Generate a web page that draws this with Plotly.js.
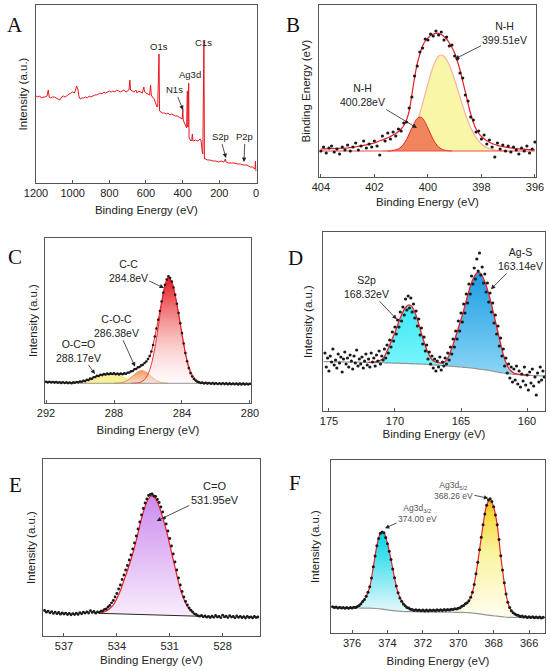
<!DOCTYPE html>
<html><head><meta charset="utf-8">
<script src="https://cdn.plot.ly/plotly-3.0.1.min.js"></script>
<style>html,body{margin:0;padding:0;background:#fff;}#chart{width:550px;height:671px;}</style>
</head><body><div id="chart"></div>
<script>
// ---------- Panel A: survey ----------
const aEnergy = [1200,1190,1180,1170,1160,1150,1140,1133,1128,1120,1110,1100,1090,1080,1070,1060,1050,1040,1030,1020,
1010,1000,990,985,978,972,965,958,950,940,930,920,910,900,890,880,870,860,850,840,
830,820,810,800,790,780,770,760,750,740,730,720,710,700,692,688,684,675,665,655,
648,640,630,620,612,607,600,590,580,575,571,565,555,548,540,536,532,529,526,520,
510,500,490,480,470,460,450,440,430,420,410,402,399,397,390,383,378,375,373,371,
369,367,365,360,355,350,347,344,340,330,320,310,305,300,297,293,290,287,284,281,
275,265,250,235,220,205,190,175,167,163,150,135,120,100,85,70,60,50,40,30,
20,10,5,3,1,0];
const aIntensity = [87,86,87,85,86,86,87,93,86,85,86,86,85,84,83,86,87,86,88,89,
90,91,90,93,97,94,86,84,85,85,86,85,87,86,87,88,88,89,90,89,
91,90,91,92,91,92,91,93,92,91,92,93,91,92,94,103,93,92,91,93,
90,92,91,90,96,91,90,89,88,98,88,86,84,80,76,77,129,129,72,71,
70,70,69,70,68,69,68,67,67,66,65,64,74,63,60,57,55,92,92,56,
100,100,45,43,42,43,49,42,42,43,42,43,44,43,33,31,29,142,142,24,
24,23,23,22,22,21,22,21,24,21,20,20,20,19,19,18,18,18,17,16,
16,15,14,22,14,12];

// ---------- Panel B: N1s ----------
const bEnergy = [404.0,403.9,403.8,403.7,403.6,403.5,403.4,403.3,403.2,403.1,
403.0,402.9,402.8,402.7,402.6,402.5,402.4,402.3,402.2,402.1,
402.0,401.9,401.8,401.7,401.6,401.5,401.4,401.3,401.2,401.1,
401.0,400.9,400.8,400.7,400.6,400.5,400.4,400.3,400.2,400.1,
400.0,399.9,399.8,399.7,399.6,399.5,399.4,399.3,399.2,399.1,
399.0,398.9,398.8,398.7,398.6,398.5,398.4,398.3,398.2,398.1,
398.0,397.9,397.8,397.7,397.6,397.5,397.4,397.3,397.2,397.1,
397.0,396.9,396.8,396.7,396.6,396.5,396.4,396.3,396.2,396.1,
396.0];
const bData = [26,30,24,29,31,25,28,23,30,27,32,26,30,34,27,31,36,29,33,30,
36,31,22,41,36,44,38,45,41,48,46,54,55,69,80,101,111,125,129,138,
137,143,141,146,142,145,137,140,131,132,121,118,104,99,82,76,60,57,45,46,
38,42,33,37,30,20,34,28,32,26,31,25,30,27,23,29,26,31,24,28,35];
const bFit = [28,28.1,28.2,28.3,28.4,28.5,28.6,28.7,28.8,28.9,29,29.4,29.8,30.2,30.7,31.2,31.7,32.2,32.8,33.4,
34,35,36.2,37,38.2,39.2,40.5,42,43.5,45.5,48,51.5,57,66,82,99,113,123,131,136,
139,141.5,143,143.7,143.7,142.5,140.5,138,134,129.5,124,116,107,96,85,73.5,63,54.5,48,43.5,
40.5,38.2,36.2,34.8,33.5,32.5,31.7,31,30.4,29.9,29.5,29.1,28.8,28.5,28.2,28,27.8,27.6,27.4,27.2,27];
const bPeak39951 = [26,26,26,26,26,26,26,26,26,26,26,26,26,26,26,26,26,26,26,26,
26,26,26,26,26.1,26.2,26.4,26.8,27.4,28.2,29.5,31.4,34.1,37.7,42.4,48.4,55.6,63.9,73.3,83.2,
93.2,102.6,110.7,117,120.8,122,120.7,117.3,112,105.1,97.2,88.6,79.8,71.2,63.1,55.8,49.3,43.9,39.4,35.8,
33,30.9,29.4,28.2,27.5,26.9,26.6,26.4,26.2,26.1,26,26,26,26,26,26,26,26,26,26,26];
const bPeak40028 = [26,26,26,26,26,26,26,26,26,26,26,26,26,26,26,26,26,26,26,26,
26,26,26,26,26,26,26.1,26.4,27,28.1,30.1,33.2,37.5,43,49,54.6,58.6,60,58.6,54.6,
49,43,37.5,33.2,30.1,28.1,27,26.4,26.1,26,26,26,26,26,26,26,26,26,26,26,
26,26,26,26,26,26,26,26,26,26,26,26,26,26,26,26,26,26,26,26,26];
const bBaseE = [404, 396];
const bBase = [26, 26];

// ---------- Panel C: C1s ----------
const cEnergy = [292.0,291.9,291.8,291.7,291.6,291.5,291.4,291.3,291.2,291.1,
291.0,290.9,290.8,290.7,290.6,290.5,290.4,290.3,290.2,290.1,
290.0,289.9,289.8,289.7,289.6,289.5,289.4,289.3,289.2,289.1,
289.0,288.9,288.8,288.7,288.6,288.5,288.4,288.3,288.2,288.1,
288.0,287.9,287.8,287.7,287.6,287.5,287.4,287.3,287.2,287.1,
287.0,286.9,286.8,286.7,286.6,286.5,286.4,286.3,286.2,286.1,
286.0,285.9,285.8,285.7,285.6,285.5,285.4,285.3,285.2,285.1,
285.0,284.9,284.8,284.7,284.6,284.5,284.4,284.3,284.2,284.1,
284.0,283.9,283.8,283.7,283.6,283.5,283.4,283.3,283.2,283.1,
283.0,282.9,282.8,282.7,282.6,282.5,282.4,282.3,282.2,282.1,
282.0,281.9,281.8,281.7,281.6,281.5,281.4,281.3,281.2,281.1,
281.0,280.9,280.8,280.7,280.6,280.5,280.4,280.3,280.2,280.1,
280.0];
const cData = [21.3,20.6,21.2,20.5,21.0,20.4,20.9,20.2,20.8,20.1,
20.7,20.0,20.6,19.9,20.5,19.8,20.6,20.2,21.0,20.6,
21.5,21.2,22.3,21.9,23.2,23.0,24.4,24.3,25.8,26.0,
27.3,27.0,28.3,27.9,28.9,28.4,29.4,28.8,29.6,29.0,
29.7,28.8,29.5,28.6,29.4,28.7,29.6,29.3,30.3,30.5,
31.8,32.0,33.7,34.0,35.6,36.0,37.6,38.2,40.0,41.5,
44.0,47.0,51.5,58.0,66.5,74.5,83.2,92.0,101.5,110.2,
118.2,123.5,126.8,125.0,121.5,115.5,108.2,99.2,89.9,79.7,
69.9,59.5,49.9,41.7,34.9,29.9,26.5,24.0,22.5,21.2,
20.8,20.0,20.4,19.6,20.2,19.4,20.0,19.2,19.9,19.1,
19.8,19.0,19.7,18.9,19.7,18.9,19.6,18.8,19.6,18.8,
19.5,18.7,19.5,18.6,19.4,18.6,19.4,18.5,19.3,18.5,
19.2];
const cFitE = [292.0,291.8,291.6,291.4,291.2,291.0,290.8,290.6,290.4,290.2,
290.0,289.8,289.6,289.4,289.2,289.0,288.8,288.6,288.4,288.2,
288.0,287.8,287.6,287.4,287.2,287.0,286.8,286.6,286.4,286.2,
286.0,285.8,285.6,285.4,285.2,285.0,284.8,284.6,284.4,284.2,
284.0,283.8,283.6,283.4,283.2,283.0,282.8,282.6,282.4,282.2,
282.0,281.8,281.6,281.4,281.2,281.0,280.8,280.6,280.4,280.2,
280.0];
const cFit = [21,20.9,20.8,20.7,20.6,20.5,20.4,20.3,20.4,20.7,
21.1,21.7,22.6,23.8,25.3,26.8,27.8,28.5,28.9,29.1,
29.2,29.1,29.0,29.2,29.8,31.3,33.2,35.2,37.2,39.7,
43.7,51.3,66.3,83,101.3,118,126.3,121.3,108,89.7,
69.7,49.7,34.7,26.3,22.3,20.5,20.1,19.9,19.7,19.6,
19.5,19.4,19.4,19.3,19.3,19.2,19.2,19.1,19.1,19.0,
19.0];
const cOCO = [19.7,19.7,19.7,19.7,19.7,19.7,19.7,19.7,19.8,19.9,
20.2,20.6,21.2,22.2,23.4,24.9,26.4,27.8,28.8,29.2,
29,28.1,26.8,25.3,23.8,22.5,21.5,20.8,20.3,20.0,
19.8,19.7,19.7,19.7,19.7,19.7,19.7,19.7,19.7,19.7,
19.7,19.7,19.7,19.7,19.7,19.7,19.7,19.7,19.7,19.7,
19.7,19.7,19.7,19.7,19.7,19.7,19.7,19.7,19.7,19.7,
19.7];
const cCOC = [19.7,19.7,19.7,19.7,19.7,19.7,19.7,19.7,19.7,19.7,
19.7,19.7,19.7,19.7,19.7,19.7,19.7,19.7,19.7,19.7,
19.8,19.9,20.3,21.2,22.9,25.4,28.4,31,32.3,31.6,
29.3,26.3,23.5,21.6,20.5,20,19.8,19.7,19.7,19.7,
19.7,19.7,19.7,19.7,19.7,19.7,19.7,19.7,19.7,19.7,
19.7,19.7,19.7,19.7,19.7,19.7,19.7,19.7,19.7,19.7,
19.7];
const cCC = [19.7,19.7,19.7,19.7,19.7,19.7,19.7,19.7,19.7,19.7,
19.7,19.7,19.7,19.7,19.7,19.7,19.7,19.7,19.7,19.7,
19.7,19.7,19.7,19.7,19.7,19.7,19.8,20.1,21.1,23.5,
28.8,38.7,54.6,75.9,98.9,117.5,125.7,121.3,107.6,88.1,
67.7,50.1,37,28.6,23.8,21.4,20.3,19.9,19.7,19.7,
19.7,19.7,19.7,19.7,19.7,19.7,19.7,19.7,19.7,19.7,
19.7];
const cBaseE = [292, 280];
const cBase = [19.7, 19.7];
const cBgE = [290, 280];

// ---------- Panel D: S2p ----------
const dEnergy = [175.3,175.2,175.1,175.0,174.9,174.8,174.7,174.6,174.5,174.4,
174.3,174.2,174.1,174.0,173.9,173.8,173.7,173.6,173.5,173.4,
173.3,173.2,173.1,173.0,172.9,172.8,172.7,172.6,172.5,172.4,
172.3,172.2,172.1,172.0,171.9,171.8,171.7,171.6,171.5,171.4,
171.3,171.2,171.1,171.0,170.9,170.8,170.7,170.6,170.5,170.4,
170.3,170.2,170.1,170.0,169.9,169.8,169.7,169.6,169.5,169.4,
169.3,169.2,169.1,169.0,168.9,168.8,168.7,168.6,168.5,168.4,
168.3,168.2,168.1,168.0,167.9,167.8,167.7,167.6,167.5,167.4,
167.3,167.2,167.1,167.0,166.9,166.8,166.7,166.6,166.5,166.4,
166.3,166.2,166.1,166.0,165.9,165.8,165.7,165.6,165.5,165.4,
165.3,165.2,165.1,165.0,164.9,164.8,164.7,164.6,164.5,164.4,
164.3,164.2,164.1,164.0,163.9,163.8,163.7,163.6,163.5,163.4,
163.3,163.2,163.1,163.0,162.9,162.8,162.7,162.6,162.5,162.4,
162.3,162.2,162.1,162.0,161.9,161.8,161.7,161.6,161.5,161.4,
161.3,161.2,161.1,161.0,160.9,160.8,160.7,160.6,160.5,160.4,
160.3,160.2,160.1,160.0,159.9,159.8,159.7,159.6,159.5,159.4,
159.3,159.2,159.1,159.0,158.9,158.8,158.7];
const dData = [58,44,53,40,55,49,62,46,51,43,
57,48,54,39,52,59,47,53,44,56,
50,42,55,48,61,45,52,47,54,43,
50,57,46,52,44,58,49,53,45,56,
50,60,47,55,51,62,53,66,58,71,
64,79,70,84,77,91,84,99,90,104,
96,112,101,115,103,113,99,107,93,100,
85,92,76,83,67,74,60,66,52,59,
47,55,43,52,40,50,44,54,41,49,
45,53,47,58,51,64,57,72,64,80,
72,90,80,98,89,107,98,117,108,127,
117,135,127,143,132,152,140,158,136,144,
128,137,119,128,109,118,99,108,88,96,
77,85,65,73,55,62,45,53,38,47,
33,44,29,42,31,45,27,40,24,37,
30,44,26,36,21,39,28,42,25,34,
16,38,29,44,31,40,34];
const dFitE = [172.0,171.8,171.6,171.4,171.2,171.0,170.8,170.6,170.4,170.2,
170.0,169.8,169.6,169.4,169.2,169.0,168.8,168.6,168.4,168.2,
168.0,167.8,167.6,167.4,167.2,167.0,166.8,166.6,166.4,166.2,
166.0,165.8,165.6,165.4,165.2,165.0,164.8,164.6,164.4,164.2,
164.0,163.8,163.6,163.4,163.2,163.0,162.8,162.6,162.4,162.2,
162.0,161.8,161.6,161.4,161.2,161.0,160.8,160.6,160.4,160.2,
160.0,159.8];
const dFit = [48.6,48.6,48.8,49.3,50.2,51.5,54.5,60,66,72.5,
78.5,86,93,99,103.5,106,105.5,102,95.5,87,
77.5,69,61.5,55.5,51.5,49.5,48.6,48.1,48.1,49.5,
53,59,66.5,74.5,83,91.5,100.5,110.5,120,128.5,
134.5,138.3,138.5,135.5,129.5,121.5,112,101.5,90,78.5,
67,56.5,48.5,43,40,38,37.2,36.7,36.3,36,
35.8,35.7];
const dBgE = [175.4,175.2,175.0,174.8,174.6,174.4,174.2,174.0,173.8,173.6,
173.4,173.2,173.0,172.8,172.6,172.4,172.2,172.0,171.8,171.6,
171.4,171.2,171.0,170.8,170.6,170.4,170.2,170.0,169.8,169.6,
169.4,169.2,169.0,168.8,168.6,168.4,168.2,168.0,167.8,167.6,
167.4,167.2,167.0,166.8,166.6,166.4,166.2,166.0,165.8,165.6,
165.4,165.2,165.0,164.8,164.6,164.4,164.2,164.0,163.8,163.6,
163.4,163.2,163.0,162.8,162.6,162.4,162.2,162.0,161.8,161.6,
161.4,161.2,161.0,160.8,160.6,160.4,160.2,160.0,159.8,159.6,
159.4,159.2,159.0,158.8,158.6];
const dBg = [49.4,49.4,49.3,49.3,49.2,49.2,49.1,49.1,49.0,49.0,
48.9,48.9,48.8,48.8,48.7,48.7,48.6,48.6,48.5,48.5,
48.4,48.4,48.3,48.2,48.1,48.1,48.0,47.9,47.8,47.7,
47.7,47.6,47.5,47.4,47.3,47.2,47.1,47.0,46.8,46.6,
46.4,46.2,46.0,45.8,45.6,45.4,45.2,45.0,44.8,44.6,
44.4,44.2,44.0,43.7,43.5,43.2,43.0,42.7,42.3,41.9,
41.6,41.2,40.8,40.3,39.8,39.3,38.8,38.3,38.0,37.7,
37.3,37.0,36.7,36.5,36.3,36.1,35.9,35.7,35.6,35.5,
35.4,35.3,35.2,35.1,35.0];

// ---------- Panel E: O1s ----------
const eEnergy = [538.1,538.0,537.9,537.8,537.7,537.6,537.5,537.4,537.3,537.2,
537.1,537.0,536.9,536.8,536.7,536.6,536.5,536.4,536.3,536.2,
536.1,536.0,535.9,535.8,535.7,535.6,535.5,535.4,535.3,535.2,
535.1,535.0,534.9,534.8,534.7,534.6,534.5,534.4,534.3,534.2,
534.1,534.0,533.9,533.8,533.7,533.6,533.5,533.4,533.3,533.2,
533.1,533.0,532.9,532.8,532.7,532.6,532.5,532.4,532.3,532.2,
532.1,532.0,531.9,531.8,531.7,531.6,531.5,531.4,531.3,531.2,
531.1,531.0,530.9,530.8,530.7,530.6,530.5,530.4,530.3,530.2,
530.1,530.0,529.9,529.8,529.7,529.6,529.5,529.4,529.3,529.2,
529.1,529.0,528.9,528.8,528.7,528.6,528.5,528.4,528.3,528.2,
528.1,528.0,527.9,527.8,527.7,527.6,527.5,527.4,527.3,527.2,
527.1,527.0,526.9,526.8,526.7,526.6,526.5,526.4,526.3,526.2,
526.1,526.0];
const eData = [25.5,23.8,24.9,23.2,24.4,22.6,23.9,22.3,23.5,21.8,
23.2,22.0,22.9,21.5,22.7,21.2,22.4,21.4,22.8,21.6,
23.4,22.2,23.8,22.9,24.2,23.0,25.3,23.6,24.5,22.8,
24.2,23.6,24.9,25.2,26.6,27.0,29.0,30.5,33.2,35.5,
39.0,42.5,47.0,51.0,56.5,61.0,66.0,70.5,76.0,81.0,
87.0,93.0,100.0,107.0,114.0,121.0,127.5,133.0,137.0,140.5,
141.5,142.0,140.0,139.5,136.5,133.5,129.0,124.0,118.0,112.0,
105.0,97.5,90.0,82.0,74.0,66.0,58.0,51.0,44.5,39.0,
34.5,31.0,28.0,25.8,24.0,22.2,21.5,20.2,19.8,20.6,
19.2,20.1,18.8,19.7,18.5,19.9,18.7,20.5,19.0,19.6,
18.3,20.8,19.1,19.8,18.4,20.3,18.9,19.5,18.2,20.0,
18.6,19.7,18.3,19.4,18.0,19.6,18.5,19.2,18.1,19.5,
18.4,19.0];
const eFitE = [535.0,534.8,534.6,534.4,534.2,534.0,533.8,533.6,533.4,533.2,
533.0,532.8,532.6,532.4,532.2,532.0,531.8,531.6,531.4,531.2,
531.0,530.8,530.6,530.4,530.2,530.0,529.8,529.6,529.4,529.2];
const eFit = [22.7,23.5,25,27.5,31,37.5,45.5,55.5,65.5,76.5,
88.5,103,117.5,129.5,137.5,140.3,137,129.5,118.5,106,
91.5,76,61,47,37,29.5,25,22.3,20.7,19.7];
const eBgE = [535.0, 529.2];
const eBg = [22.7, 19.7];

// ---------- Panel F: Ag3d ----------
const fEnergy = [377.1,377.0,376.9,376.8,376.7,376.6,376.5,376.4,376.3,376.2,
376.1,376.0,375.9,375.8,375.7,375.6,375.5,375.4,375.3,375.2,
375.1,375.0,374.9,374.8,374.7,374.6,374.5,374.4,374.3,374.2,
374.1,374.0,373.9,373.8,373.7,373.6,373.5,373.4,373.3,373.2,
373.1,373.0,372.9,372.8,372.7,372.6,372.5,372.4,372.3,372.2,
372.1,372.0,371.9,371.8,371.7,371.6,371.5,371.4,371.3,371.2,
371.1,371.0,370.9,370.8,370.7,370.6,370.5,370.4,370.3,370.2,
370.1,370.0,369.9,369.8,369.7,369.6,369.5,369.4,369.3,369.2,
369.1,369.0,368.9,368.8,368.7,368.6,368.5,368.4,368.3,368.2,
368.1,368.0,367.9,367.8,367.7,367.6,367.5,367.4,367.3,367.2,
367.1,367.0,366.9,366.8,366.7,366.6,366.5,366.4,366.3,366.2,
366.1,366.0,365.9,365.8,365.7,365.6,365.5,365.4,365.3,365.2];
const fData = [26.2,25.4,26.0,25.1,25.8,24.9,25.6,24.8,25.5,24.7,
25.4,24.9,25.7,25.5,26.6,27.6,29.2,31.4,33.6,36.7,
40.8,46.3,55.0,66.2,77.0,87.2,94.6,99.7,101.0,100.2,
95.5,89.2,81.8,73.5,64.0,55.2,47.0,40.2,35.0,31.7,
29.0,27.2,25.6,24.9,23.8,23.5,22.6,23.3,22.4,23.1,
22.2,23.0,22.1,22.9,22.0,23.0,22.2,23.1,22.3,23.2,
22.4,23.3,22.5,23.4,22.7,23.5,23.0,23.8,23.4,24.2,
23.9,24.7,25.3,26.7,27.6,29.2,30.2,32.3,35.8,40.8,
48.5,59.2,70.8,83.3,95.8,108.2,119.0,127.8,133.0,134.3,
131.5,126.2,118.0,108.3,93.5,77.2,63.0,50.3,39.0,30.8,
25.5,22.3,20.2,19.0,18.0,17.5,16.6,16.9,15.9,16.5,
15.6,16.3,15.4,16.2,15.3,16.1,15.2,16.0,15.1,15.8];
const fBgE = [377.0,376.8,376.6,376.4,376.2,376.0,375.8,375.6,375.4,375.2,
375.0,374.8,374.6,374.4,374.2,374.0,373.8,373.6,373.4,373.2,
373.0,372.8,372.6,372.4,372.2,372.0,371.8,371.6,371.4,371.2,
371.0,370.8,370.6,370.4,370.2,370.0,369.8,369.6,369.4,369.2,
369.0,368.8,368.6,368.4,368.2,368.0,367.8,367.6,367.4,367.2,
367.0,366.8,366.6,366.4,366.2,366.0,365.8,365.6,365.4,365.2];
const fBg = [25.3,25.3,25.2,25.2,25.1,25.1,25.0,25.0,24.9,24.9,
24.8,24.7,24.5,24.1,23.6,23.1,22.6,22.2,21.8,21.6,
21.4,21.3,21.3,21.2,21.2,21.1,21.1,21.0,21.0,20.9,
20.9,20.8,20.8,20.8,20.7,20.7,20.6,20.5,20.3,20.0,
19.7,19.2,18.6,18.1,17.6,17.2,16.8,16.4,16.0,15.7,
15.6,15.5,15.5,15.4,15.4,15.3,15.3,15.3,15.2,15.2];
const f32E = [375.8,375.6,375.4,375.2,375.0,374.8,374.6,374.4,374.2,374.0,
373.8,373.6,373.4,373.2,373.0,372.8,372.6];
const f32Fit = [25.6,27.5,31.3,36.5,46,66,87,99.5,100.3,89.5,
73.5,55,40,32,27,24.5,23.3];
const f52E = [370.0,369.8,369.6,369.4,369.2,369.0,368.8,368.6,368.4,368.2,
368.0,367.8,367.6,367.4,367.2,367.0,366.8,366.6,366.4];
const f52Fit = [24.5,26.5,29,32,40.5,59,83,108,127.5,134,
126,108,77,50,30.5,22,18.8,17.3,16.6];

// tick labels / titles
const xTitle = 'Binding Energy (eV)';
const yTitles = ['Intensity (a.u.)','Binding Energy (eV)','Intensity (a.u.)','Intensity (a.u.)','Intensity (a.u.)','Intensity (a.u.)'];
const panelLetters = ['A','B','C','D','E','F'];

// ---------- helpers ----------
const FONT = 'Liberation Sans, Arial, Helvetica, sans-serif';
function seg(xs, ys, lo, hi) {
  const X = [], Y = [];
  for (let i = 0; i < xs.length; i++) {
    if (xs[i] >= lo - 1e-9 && xs[i] <= hi + 1e-9) { X.push(xs[i]); Y.push(ys[i]); }
  }
  return {x: X, y: Y};
}
const traces = [];
function ax(n) { return n === 1 ? ['x','y'] : ['x'+n, 'y'+n]; }
function baseTrace(n, s) {
  const [xa, ya] = ax(n);
  traces.push({x: s.x, y: s.y, xaxis: xa, yaxis: ya, mode: 'lines', line: {width: 0, color: 'rgba(0,0,0,0)'}, hoverinfo: 'skip', showlegend: false});
}
function fillTrace(n, s, opt) {
  const [xa, ya] = ax(n);
  const t = {x: s.x, y: s.y, xaxis: xa, yaxis: ya, mode: 'lines', fill: 'tonexty',
    line: {width: opt.lw === undefined ? 1 : opt.lw, color: opt.lc || 'rgba(0,0,0,0)', shape: 'spline', smoothing: 0.8},
    fillcolor: opt.fc, hoverinfo: 'skip', showlegend: false};
  if (opt.grad) t.fillgradient = {type: 'vertical', colorscale: opt.grad};
  traces.push(t);
}
function lineTrace(n, x, y, color, width, spline) {
  const [xa, ya] = ax(n);
  traces.push({x: x, y: y, xaxis: xa, yaxis: ya, mode: 'lines', line: {color: color, width: width, shape: spline ? 'spline' : 'linear', smoothing: 0.8}, hoverinfo: 'skip', showlegend: false});
}
function dotTrace(n, x, y, size) {
  const [xa, ya] = ax(n);
  traces.push({x: x, y: y, xaxis: xa, yaxis: ya, mode: 'markers', marker: {color: '#1a1a1a', size: size}, hoverinfo: 'skip', showlegend: false});
}

// A
lineTrace(1, aEnergy, aIntensity, 'rgb(232,22,30)', 1, false);

// B
baseTrace(2, {x: bBaseE, y: bBase});
fillTrace(2, seg(bEnergy, bPeak39951, 397.0, 401.7), {lc: 'rgb(246,178,160)', lw: 1.2, fc: 'rgb(250,246,168)'});
baseTrace(2, {x: bBaseE, y: bBase});
fillTrace(2, seg(bEnergy, bPeak40028, 399.1, 401.5), {lc: 'rgb(232,40,30)', lw: 1, fc: 'rgb(240,132,92)'});
lineTrace(2, bBaseE, bBase, 'rgb(240,80,70)', 1.2, false);
lineTrace(2, bEnergy, bFit, 'rgb(232,30,40)', 1.2, true);
dotTrace(2, bEnergy, bData, 3.2);

// C
baseTrace(3, {x: cBaseE, y: cBase});
fillTrace(3, seg(cFitE, cOCO, 286.2, 290.4), {lc: 'rgb(240,225,110)', lw: 1, fc: 'rgb(246,240,150)'});
baseTrace(3, {x: cBaseE, y: cBase});
fillTrace(3, seg(cFitE, cCOC, 284.8, 288.0), {lc: 'rgb(242,140,60)', lw: 1, fc: 'rgb(246,172,120)',
  grad: [[0, 'rgba(250,215,190,0.9)'], [1, 'rgba(244,150,90,0.95)']]});
baseTrace(3, {x: cBaseE, y: cBase});
fillTrace(3, seg(cFitE, cCC, 282.4, 287.0), {lc: 'rgb(235,30,35)', lw: 0.9, fc: 'rgba(235,60,60,0.6)',
  grad: [[0, 'rgba(255,240,240,0.35)'], [0.5, 'rgba(245,150,150,0.8)'], [1, 'rgba(228,20,30,0.98)']]});
lineTrace(3, cBgE, cBase, 'rgb(150,150,150)', 1, false);
lineTrace(3, cFitE, cFit, 'rgb(232,30,40)', 1, true);
dotTrace(3, cEnergy, cData, 2.6);

// D
baseTrace(4, seg(dBgE, dBg, 166.4, 172.0));
fillTrace(4, seg(dFitE, dFit, 166.4, 172.0), {lw: 0, fc: 'rgb(80,238,248)',
  grad: [[0, 'rgb(120,244,250)'], [1, 'rgb(60,232,246)']]});
baseTrace(4, seg(dBgE, dBg, 159.8, 166.4));
fillTrace(4, seg(dFitE, dFit, 159.8, 166.4), {lw: 0, fc: 'rgb(60,170,235)',
  grad: [[0, 'rgb(140,214,246)'], [1, 'rgb(28,156,228)']]});
lineTrace(4, dBgE, dBg, 'rgb(150,150,150)', 1.2, true);
lineTrace(4, dFitE, dFit, 'rgb(240,30,40)', 1.3, true);
dotTrace(4, dEnergy, dData, 3.2);

// E
baseTrace(5, {x: eBgE, y: eBg});
fillTrace(5, {x: eFitE, y: eFit}, {lc: 'rgb(240,30,40)', lw: 1.2, fc: 'rgb(220,180,245)',
  grad: [[0, 'rgb(248,236,252)'], [1, 'rgb(204,140,240)']]});
lineTrace(5, eBgE, eBg, 'rgb(40,40,40)', 1, false);
dotTrace(5, eEnergy, eData, 2.8);

// F
baseTrace(6, seg(fBgE, fBg, 372.6, 375.8));
fillTrace(6, {x: f32E, y: f32Fit}, {lc: 'rgb(240,30,40)', lw: 1.2, fc: 'rgb(90,225,240)',
  grad: [[0, 'rgb(228,248,252)'], [1, 'rgb(0,214,232)']]});
baseTrace(6, seg(fBgE, fBg, 366.4, 370.0));
fillTrace(6, {x: f52E, y: f52Fit}, {lc: 'rgb(240,30,40)', lw: 1.2, fc: 'rgb(250,235,120)',
  grad: [[0, 'rgb(255,254,240)'], [0.55, 'rgb(250,244,160)'], [0.88, 'rgb(246,218,60)'], [1, 'rgb(240,170,40)']]});
lineTrace(6, fBgE, fBg, 'rgb(150,150,150)', 1.2, true);
dotTrace(6, fEnergy, fData, 3);

// ---------- axes ----------
const W = 550, H = 671;
const frames = [
  // [left px, right px, top px, bottom px, xrange, dtick, tick0, yrange, xStandoff, yStandoff]
  [36, 256.7, 5, 183, [1200, -4], 200, 0, [0, 178], 7, 4.5],
  [319, 536, 5, 177, [404.07, 395.96], 2, 396, [0, 172], 5.5, 4.5],
  [45, 251, 238, 403, [292.06, 279.94], 4, 280, [0, 165], 7, 3.5],
  [323, 545, 232, 411, [175.45, 158.64], 5, 160, [0, 179], 3, 6.5],
  [43, 260, 459, 636, [538.19, 525.88], 3, 528, [0, 177], 4, 3.5],
  [331, 545, 460, 633, [377.19, 365.1], 2, 366, [0, 173], 8, 7.5]
];
const layout = {
  width: W, height: H, margin: {l: 0, r: 0, t: 0, b: 0, autoexpand: false},
  paper_bgcolor: '#fff', plot_bgcolor: '#fff', showlegend: false,
  font: {family: FONT, color: '#222'},
  annotations: []
};
frames.forEach((f, i) => {
  const n = i + 1;
  const xk = n === 1 ? 'xaxis' : 'xaxis' + n;
  const yk = n === 1 ? 'yaxis' : 'yaxis' + n;
  layout[xk] = {
    domain: [f[0] / W, f[1] / W], anchor: ax(n)[1], range: f[4], automargin: true,
    dtick: f[5], tick0: f[6], ticks: 'inside', ticklen: 3, tickwidth: 1, tickcolor: '#555',
    showline: true, mirror: true, linecolor: '#555', linewidth: 1,
    showgrid: false, zeroline: false, fixedrange: true,
    tickfont: {family: FONT, size: 11, color: '#222'},
    title: {text: xTitle, font: {family: FONT, size: 11.5, color: '#222'}, standoff: f[8]}
  };
  layout[yk] = {
    domain: [(H - f[3]) / H, (H - f[2]) / H], anchor: ax(n)[0], range: f[7], automargin: true,
    showticklabels: false, ticks: '', showline: true, mirror: true, linecolor: '#555', linewidth: 1,
    showgrid: false, zeroline: false, fixedrange: true,
    title: {text: yTitles[i], font: {family: FONT, size: 11.5, color: '#222'}, standoff: f[9]}
  };
});

// panel letters
const letterPos = [[15, 25], [293, 25], [15, 257], [295, 258], [15, 485], [295, 483]];
panelLetters.forEach((L, i) => {
  layout.annotations.push({xref: 'paper', yref: 'paper', x: letterPos[i][0] / W, y: 1 - letterPos[i][1] / H,
    text: L, showarrow: false, xanchor: 'center', yanchor: 'middle',
    font: {family: 'Liberation Serif, Times New Roman, serif', size: 21, color: '#111'}});
});

// plain labels (no arrow)
function label(n, x, y, text, size, color) {
  const [xa, ya] = ax(n);
  layout.annotations.push({xref: xa, yref: ya, x: x, y: y, text: text, showarrow: false,
    xanchor: 'center', yanchor: 'middle', font: {family: FONT, size: size, color: color || '#222'}});
}
// labels with an arrow pointing to a peak: text sits at (tx, ty), arrow tip at (hx, hy)
function callout(n, tx, ty, hx, hy, text, size, color) {
  const [xa, ya] = ax(n);
  layout.annotations.push({xref: xa, yref: ya, axref: xa, ayref: ya, x: hx, y: hy, ax: tx, ay: ty,
    text: text, showarrow: true, arrowhead: 2, arrowsize: 1.1, arrowwidth: 0.8, arrowcolor: '#222',
    standoff: 0, startstandoff: 1, align: 'center', borderpad: 0,
    font: {family: FONT, size: size, color: color || '#222'}});
}

// A labels
label(1, 529, 136, 'O1s', 9.5);
label(1, 283.6, 140, 'C1s', 9.5);
label(1, 360, 108, 'Ag3d', 9.5);
callout(1, 441.8, 93, 398, 73, 'N1s', 9.5);
callout(1, 196, 46, 163.6, 25, 'S2p', 9.5);
callout(1, 60, 46, 65.5, 21, 'P2p', 9.5);
// B labels
callout(2, 397.12, 143.5, 398.99, 118, 'N-H<br>399.51eV', 10.5);
callout(2, 402.43, 81.5, 400.41, 49, 'N-H<br>400.28eV', 10.5);
// C labels
callout(3, 287.15, 132, 285.06, 115, 'C-C<br>284.8eV', 10.5);
callout(3, 287.85, 77.2, 286.76, 36.3, 'C-O-C<br>286.38eV', 10.5);
callout(3, 290.11, 52.2, 289.12, 29, 'O-C=O<br>288.17eV', 10.5);
// D labels
callout(4, 160.49, 151.9, 162.73, 121.7, 'Ag-S<br>163.14eV', 10.5);
callout(4, 172.18, 123.9, 169.87, 91.7, 'S2p<br>168.32eV', 10.5);
// E labels
callout(5, 528.45, 142.7, 531.74, 115, 'C=O<br>531.95eV', 11);
// F labels
callout(6, 370.27, 142.2, 368.3, 134.7, 'Ag3d<sub>5/2</sub><br>368.26 eV', 8.5, '#555');
callout(6, 372.31, 119.7, 374.14, 104.7, 'Ag3d<sub>3/2</sub><br>374.00 eV', 8.5, '#555');

Plotly.newPlot('chart', traces, layout, {displayModeBar: false, staticPlot: true});
</script>
</body></html>
